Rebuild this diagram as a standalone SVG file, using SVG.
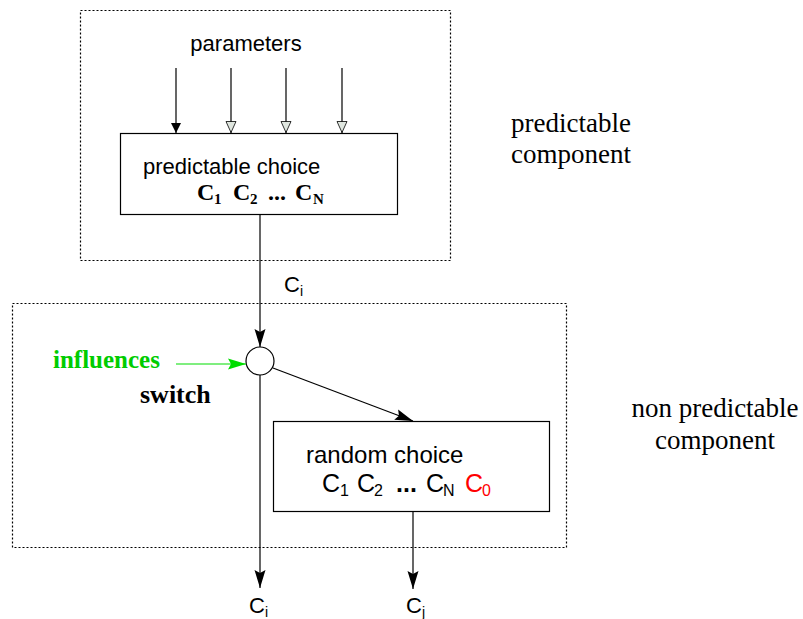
<svg xmlns="http://www.w3.org/2000/svg" width="803" height="619" viewBox="0 0 803 619">
<style>
.dot{fill:none;stroke:#000;stroke-width:1.2;stroke-dasharray:2 2}
.box{fill:#fff;stroke:#000;stroke-width:1.2}
.ln{fill:none;stroke:#000;stroke-width:1.2}
</style>
<defs>
<marker id="af" viewBox="0 0 10 12" refX="10" refY="6" markerWidth="10" markerHeight="12" markerUnits="userSpaceOnUse" orient="auto"><path d="M0,1 L10,6 L0,11 z" fill="#000"/></marker>
<marker id="ab" viewBox="0 0 18 12" refX="18" refY="6" markerWidth="18" markerHeight="12" markerUnits="userSpaceOnUse" orient="auto"><path d="M0,0.5 L18,6 L0,11.5 L3,6 z" fill="#000"/></marker>
<marker id="ao" viewBox="0 0 12 12" refX="12" refY="6" markerWidth="12" markerHeight="12" markerUnits="userSpaceOnUse" orient="auto"><path d="M0.5,1 L11.5,6 L0.5,11 z" fill="#dfe6df" stroke="#000" stroke-width="0.8"/></marker>
<marker id="ag" viewBox="0 0 18 12" refX="18" refY="6" markerWidth="18" markerHeight="12" markerUnits="userSpaceOnUse" orient="auto"><path d="M0,0.5 L18,6 L0,11.5 L3,6 z" fill="#00dd00"/></marker>
</defs>
<g id="predictable-component">
<rect class="dot" x="80.5" y="10.5" width="370" height="250"/>
<text x="511" y="132" font-family="Liberation Serif, Times New Roman, serif" font-size="27" fill="#000">predictable</text>
<text x="511" y="163" font-family="Liberation Serif, Times New Roman, serif" font-size="27" fill="#000">component</text>
</g>
<g id="non-predictable-component">
<rect class="dot" x="12.5" y="303.5" width="554" height="244"/>
<text x="715" y="417" text-anchor="middle" font-family="Liberation Serif, Times New Roman, serif" font-size="27" fill="#000">non predictable</text>
<text x="715" y="449" text-anchor="middle" font-family="Liberation Serif, Times New Roman, serif" font-size="27" fill="#000">component</text>
</g>
<g id="parameters">
<text x="246" y="51" text-anchor="middle" font-family="Liberation Sans, Arial, sans-serif" font-size="22" fill="#000">parameters</text>
</g>
<g id="predictable-choice">
<rect class="box" x="120.5" y="133.5" width="277" height="81"/>
<text x="143" y="174" font-family="Liberation Sans, Arial, sans-serif" font-size="22" fill="#000">predictable choice</text>
<g font-family="Liberation Serif, Times New Roman, serif" font-weight="bold" font-size="24" fill="#000">
<text x="197" y="200">C</text><text x="214" y="204" font-size="15">1</text>
<text x="233" y="200">C</text><text x="250" y="204" font-size="15">2</text>
<text x="268" y="200">...</text>
<text x="295" y="200">C</text><text x="313" y="204" font-size="15">N</text>
</g>
</g>
<g id="switch">
<circle cx="260" cy="361" r="14" fill="#fff" stroke="#000" stroke-width="1.2"/>
<text x="140" y="403" font-family="Liberation Serif, Times New Roman, serif" font-weight="bold" font-size="26" fill="#000">switch</text>
</g>
<g id="influences">
<text x="53" y="368" font-family="Liberation Serif, Times New Roman, serif" font-weight="bold" font-size="25" fill="#00cc00">influences</text>
</g>
<g id="random-choice">
<rect class="box" x="273.5" y="421.5" width="276" height="90"/>
<text x="306" y="463" font-family="Liberation Sans, Arial, sans-serif" font-size="24" fill="#000">random choice</text>
<g font-family="Liberation Sans, Arial, sans-serif" font-size="25" fill="#000">
<text x="322" y="492">C</text><text x="340" y="496" font-size="16">1</text>
<text x="357" y="492">C</text><text x="374" y="496" font-size="16">2</text>
<text x="396" y="492" font-weight="bold">...</text>
<text x="426" y="492">C</text><text x="443" y="496" font-size="16">N</text>
<text x="465" y="492" fill="#ff0000">C</text><text x="482" y="496" font-size="16" fill="#ff0000">0</text>
</g>
</g>
<g id="outputs" font-family="Liberation Sans, Arial, sans-serif" font-size="22" fill="#000">
<text x="284" y="292">C</text><text x="300" y="296" font-size="14">i</text>
<text x="249" y="613">C</text><text x="265" y="617" font-size="14">i</text>
<text x="406" y="613">C</text><text x="422" y="617" font-size="14">j</text>
</g>
<g id="connectors">
<line class="ln" x1="176" y1="68" x2="176" y2="133" marker-end="url(#af)"/>
<line class="ln" x1="231" y1="68" x2="231" y2="133" marker-end="url(#ao)"/>
<line class="ln" x1="286" y1="68" x2="286" y2="133" marker-end="url(#ao)"/>
<line class="ln" x1="342" y1="68" x2="342" y2="133" marker-end="url(#ao)"/>
<line class="ln" x1="260" y1="215" x2="260" y2="347" marker-end="url(#ab)"/>
<line x1="176" y1="364" x2="246" y2="364" stroke="#00dd00" stroke-width="1.2" marker-end="url(#ag)"/>
<line class="ln" x1="273" y1="368" x2="413" y2="421" marker-end="url(#ab)"/>
<line class="ln" x1="260" y1="375" x2="260" y2="588" marker-end="url(#ab)"/>
<line class="ln" x1="413" y1="512" x2="413" y2="589" marker-end="url(#ab)"/>
</g>
</svg>
